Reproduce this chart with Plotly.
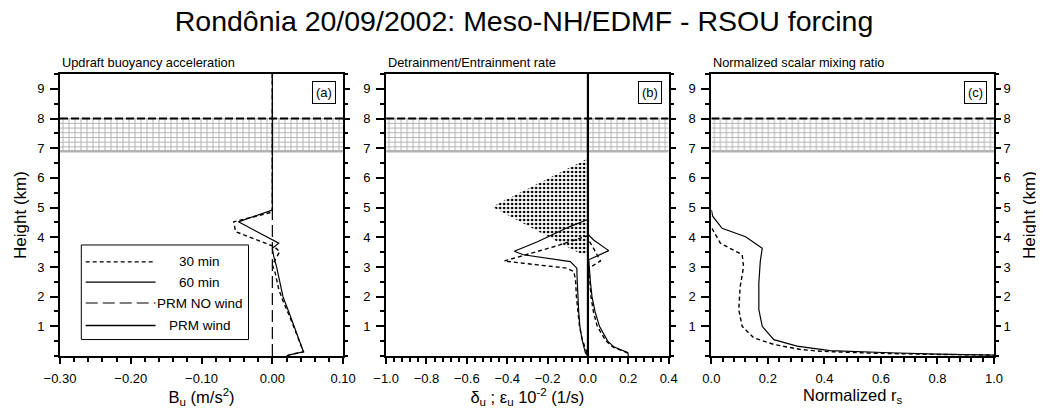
import plotly.graph_objects as go

FONT = "Liberation Sans, Arial, Helvetica, sans-serif"

# ---------------- data ----------------
# Panel (a): updraft buoyancy acceleration (m/s2) vs height (km)
z_a60 = [9.5, 4.92, 4.52, 3.80, 3.63, 3.35, 3.0, 2.5, 2.0, 1.5, 1.0, 0.5, 0.14, 0.04, 0.0]
bu_60 = [0.0, 0.0, -0.048, 0.009, 0.0, 0.002, 0.006, 0.010, 0.015, 0.023, 0.031, 0.038, 0.044, 0.024, 0.02]
z_a30 = [9.5, 4.85, 4.52, 4.19, 3.69, 3.52, 3.07, 2.8, 2.25, 1.8, 1.3, 0.8, 0.4, 0.14, 0.04, 0.0]
bu_30 = [0.0, 0.0, -0.0545, -0.052, 0.002, 0.0105, 0.0, 0.004, 0.009, 0.016, 0.025, 0.033, 0.040, 0.044, 0.024, 0.02]
z_prm = [0.0, 9.5]
bu_prm_nowind = [0.0, 0.0]

# Panel (b): detrainment (negative) / entrainment (positive) rates
z_b60d = [9.5, 4.6, 4.36, 3.85, 3.53, 3.41, 3.18, 2.96, 2.68, 2.0, 1.5, 1.0, 0.55, 0.11, 0.0]
det_60 = [0.0, 0.0, -0.09, -0.25, -0.365, -0.32, -0.087, -0.055, -0.054, -0.050, -0.046, -0.040, -0.029, -0.013, 0.0]
z_b30d = [9.5, 4.05, 3.68, 3.2, 3.07, 2.96, 2.85, 2.6, 2.0, 1.5, 1.0, 0.6, 0.25, 0.0]
det_30 = [0.0, 0.0, -0.17, -0.415, -0.25, -0.104, -0.071, -0.062, -0.057, -0.050, -0.042, -0.030, -0.012, 0.0]
z_b60e = [9.5, 4.1, 3.91, 3.55, 3.24, 3.0, 2.5, 2.0, 1.5, 1.0, 0.5, 0.3, 0.11, 0.0]
ent_60 = [0.0, 0.0, 0.028, 0.103, 0.004, 0.006, 0.012, 0.020, 0.035, 0.057, 0.098, 0.130, 0.198, 0.2]
z_b30e = [9.5, 3.95, 3.6, 3.2, 2.96, 2.5, 2.0, 1.5, 1.0, 0.5, 0.3, 0.11, 0.0]
ent_30 = [0.0, 0.0, 0.03, 0.062, 0.005, 0.009, 0.015, 0.027, 0.046, 0.090, 0.125, 0.195, 0.2]
bu_prm_wind = [0.0, 0.0]
stip_x = [0.0, -0.475, -0.04, 0.0, 0.0]
stip_z = [6.65, 5.03, 3.45, 3.45, 6.65]

# Panel (c): normalized scalar mixing ratio
z_c60 = [4.92, 4.7, 4.30, 4.02, 3.63, 3.18, 2.46, 1.56, 1.0, 0.55, 0.33, 0.22, 0.18, 0.11, 0.06, 0.03]
rs_60 = [0.0, 0.005, 0.038, 0.121, 0.180, 0.173, 0.168, 0.168, 0.18, 0.221, 0.303, 0.386, 0.42, 0.63, 0.8, 1.0]
z_c30 = [4.3, 3.80, 3.41, 3.01, 2.34, 1.56, 1.0, 0.61, 0.39, 0.22, 0.16, 0.10, 0.06, 0.03]
rs_30 = [0.002, 0.032, 0.109, 0.114, 0.102, 0.097, 0.109, 0.150, 0.221, 0.315, 0.386, 0.55, 0.75, 1.0]

# Cloud layer (hatched band), km
cloud_base = 6.9
cloud_top = 8.0

legend_labels = ["30 min", "60 min", "PRM NO wind", "PRM wind"]
x_ranges = [[-0.30, 0.10], [-1.0, 0.4], [0.0, 1.0]]
z_range = [0.0, 9.5]
z_ticks = [1, 2, 3, 4, 5, 6, 7, 8, 9]

# ---------------- styles ----------------
DOT = dict(color="black", width=1.4, dash="4px,3px")
SOLID = dict(color="black", width=1.2)
LONGDASH = dict(color="black", width=1.2, dash="12px,5px")
THICK = dict(color="black", width=2.2)
GRID = "#b3b3b3"

fig = go.Figure()
axes = [("x", "y"), ("x2", "y2"), ("x3", "y3")]


def add(xv, yv, xa, ya, line, **kw):
    fig.add_trace(go.Scatter(x=xv, y=yv, xaxis=xa, yaxis=ya, mode="lines",
                             line=line, showlegend=False, hoverinfo="skip", **kw))


# hatched cloud band in each panel
for (xa, ya), xr in zip(axes, x_ranges):
    bx = [xr[0], xr[1], xr[1], xr[0], xr[0]]
    bz = [cloud_base, cloud_base, cloud_top, cloud_top, cloud_base]
    for shape, size in (("|", 6), ("-", 4.7)):
        add(bx, bz, xa, ya, dict(width=0), fill="toself",
            fillcolor="rgba(0,0,0,0)",
            fillpattern=dict(shape=shape, size=size, solidity=1.0 / size,
                             fgcolor=GRID, bgcolor="rgba(0,0,0,0)",
                             fillmode="replace"))
    add([xr[0], xr[1]], [cloud_base, cloud_base], xa, ya, dict(color=GRID, width=2.6))
    add([xr[0], xr[1]], [cloud_top, cloud_top], xa, ya, dict(color=GRID, width=1.2))
    add([xr[0], xr[1]], [cloud_top, cloud_top], xa, ya,
        dict(color="black", width=2, dash="8px,3px"))

# Panel (a)
add(bu_prm_nowind, z_prm, "x", "y", LONGDASH)
add(bu_60, z_a60, "x", "y", SOLID)
add(bu_30, z_a30, "x", "y", DOT)

# Panel (b)
add(stip_x, stip_z, "x2", "y2", dict(width=0), fill="toself",
    fillcolor="rgba(0,0,0,0)",
    fillpattern=dict(shape=".", size=4, solidity=0.33, fgcolor="black",
                     bgcolor="rgba(0,0,0,0)", fillmode="replace"))
add(det_60, z_b60d, "x2", "y2", SOLID)
add(ent_60, z_b60e, "x2", "y2", SOLID)
add(det_30, z_b30d, "x2", "y2", DOT)
add(ent_30, z_b30e, "x2", "y2", DOT)
add(bu_prm_wind, z_prm, "x2", "y2", THICK)

# Panel (c)
add(rs_60, z_c60, "x3", "y3", SOLID)
add(rs_30, z_c30, "x3", "y3", DOT)

# dummy traces so the right-hand tick axes are drawn
for xa, ya in (("x", "y4"), ("x2", "y5"), ("x3", "y6")):
    fig.add_trace(go.Scatter(x=[None], y=[None], xaxis=xa, yaxis=ya,
                             showlegend=False, hoverinfo="skip"))

# ---------------- layout ----------------
# page body has an 8px margin: positions below are window pixels minus 8
OFF = 8
W, H = 1044, 413
L = 59.5 - OFF
R = W - (993.7 - OFF)
T = 74 - OFF
B = H - (356.5 - OFF)
PW = W - L - R
px = lambda p: (p - OFF - L) / PW
domains = [[0.0, px(342.7)], [px(385.7), px(668.3)], [px(711), 1.0]]

tickfont = dict(family=FONT, size=13, color="black")
xtitles = ["B<sub>u</sub> (m/s<sup>2</sup>)",
           "δ<sub>u</sub> ; ε<sub>u</sub> 10<sup>-2</sup> (1/s)",
           "Normalized r<sub>s</sub>"]
xdt = [0.1, 0.2, 0.2]
xminor = [0.02, 0.04, 0.04]
xfmt = [".2f", ".1f", ".1f"]

layout = dict(
    width=W, height=H, template="none",
    paper_bgcolor="white", plot_bgcolor="white",
    margin=dict(l=L, r=R, t=T, b=B),
    showlegend=False,
    title=dict(text="Rondônia 20/09/2002: Meso-NH/EDMF - RSOU forcing",
               x=(524 - OFF) / W, xanchor="center", y=1 - (21.5 - OFF) / H, yanchor="middle",
               font=dict(family=FONT, size=28.5, color="black")),
)

for i in range(3):
    n = "" if i == 0 else str(i + 1)
    layout["xaxis" + n] = dict(
        domain=domains[i], anchor="y" + n, range=x_ranges[i],
        tick0=x_ranges[i][0], dtick=xdt[i], tickformat=xfmt[i],
        ticks="outside", ticklen=6, tickwidth=2, tickcolor="black",
        minor=dict(ticks="outside", ticklen=3.5, tickwidth=1.5, dtick=xminor[i],
                   tick0=x_ranges[i][0], tickcolor="black", showgrid=False),
        showline=True, linewidth=2, linecolor="black", mirror=True,
        showgrid=False, zeroline=False, automargin=False,
        tickfont=tickfont, ticklabelstandoff=3,
        title=dict(text=xtitles[i], standoff=4,
                   font=dict(family=FONT, size=16.5, color="black")))
    left = dict(
        domain=[0, 1], anchor="x" + n, range=z_range,
        tickvals=z_ticks, ticks="outside", ticklen=8, tickwidth=2, tickcolor="black",
        minor=dict(ticks="outside", ticklen=4, tickwidth=1.5, dtick=0.5, tick0=0,
                   tickcolor="black", showgrid=False),
        showline=True, linewidth=2, linecolor="black", mirror=False,
        showgrid=False, zeroline=False, automargin=False,
        tickfont=tickfont, ticklabelstandoff=3)
    if i == 0:
        left["title"] = dict(text="Height (km)", standoff=6,
                             font=dict(family=FONT, size=17, color="black"))
    layout["yaxis" + n] = left
    right = dict(
        overlaying="y" + n, anchor="x" + n, side="right", range=z_range,
        tickvals=z_ticks, ticks="outside", ticklen=5, tickwidth=2, tickcolor="black",
        minor=dict(ticks="outside", ticklen=3, tickwidth=1.5, dtick=0.5, tick0=0,
                   tickcolor="black", showgrid=False),
        showline=True, linewidth=2, linecolor="black",
        showgrid=False, zeroline=False, automargin=False,
        showticklabels=(i == 2), tickfont=tickfont, ticklabelstandoff=0)
    if i == 2:
        right["title"] = dict(text="Height (km)", standoff=13,
                              font=dict(family=FONT, size=17, color="black"))
    layout["yaxis" + str(i + 4)] = right

fig.update_layout(**layout)

# panel subtitles and letters
subtitles = ["Updraft buoyancy acceleration", "Detrainment/Entrainment rate",
             "Normalized scalar mixing ratio"]
letters = ["(a)", "(b)", "(c)"]
for i in range(3):
    n = "" if i == 0 else str(i + 1)
    fig.add_annotation(text=subtitles[i], xref="x" + n + " domain", yref="y" + n + " domain",
                       x=0, y=1, xanchor="left", yanchor="bottom", yshift=2,
                       showarrow=False, font=dict(family=FONT, size=12.8, color="black"))
    fig.add_annotation(text=letters[i], xref="x" + n + " domain", yref="y" + n + " domain",
                       x=0.975, y=0.975, xanchor="right", yanchor="top",
                       showarrow=False, bordercolor="black", borderwidth=1, borderpad=3,
                       bgcolor="white", font=dict(family=FONT, size=13, color="black"))

# legend box drawn inside panel (a)
leg_x0, leg_x1, leg_y0, leg_y1 = -0.2699, -0.0337, 0.554, 3.74
fig.add_shape(type="rect", xref="x", yref="y", x0=leg_x0, x1=leg_x1, y0=leg_y0, y1=leg_y1,
              line=dict(color="black", width=1), fillcolor="white", layer="above")
leg_rows = [3.17, 2.49, 1.785, 1.03]
leg_styles = [DOT, SOLID, LONGDASH, dict(color="black", width=1.6)]
for lab, yy, st in zip(legend_labels, leg_rows, leg_styles):
    fig.add_shape(type="line", xref="x", yref="y", x0=-0.2637, x1=-0.165, y0=yy, y1=yy,
                  line=st, layer="above")
    fig.add_annotation(text=lab, xref="x", yref="y", x=-0.1026, y=yy, xanchor="center",
                       yanchor="middle", showarrow=False,
                       font=dict(family=FONT, size=13.5, color="black"))

fig.write_html("out.html")
